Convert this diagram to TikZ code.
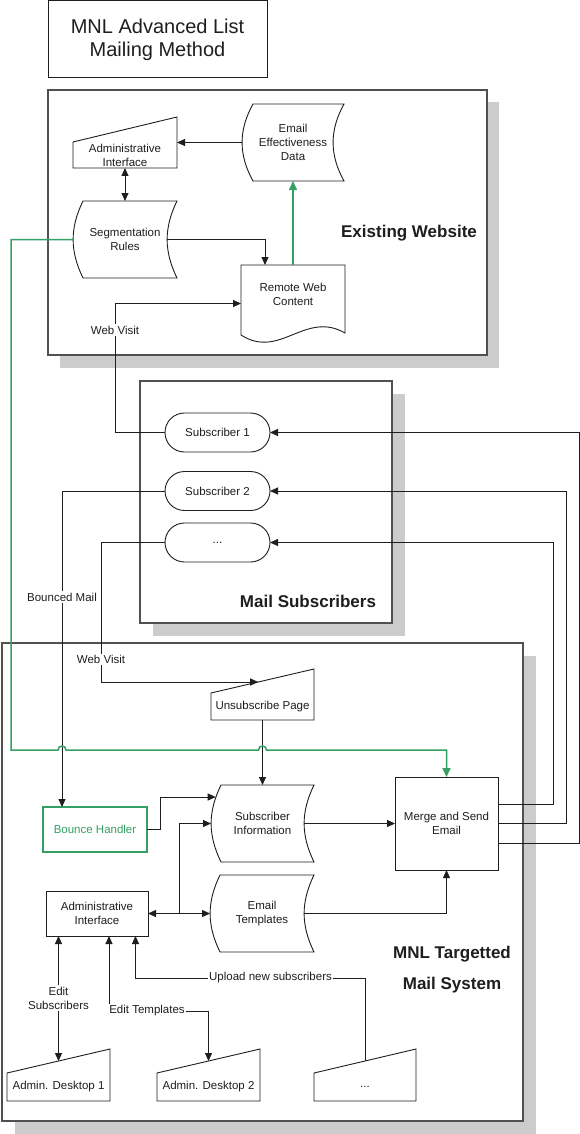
\documentclass[tikz,border=0pt]{standalone}
\usepackage{fontspec}
\setmainfont{Liberation Sans}
\usetikzlibrary{arrows.meta,shapes.misc,calc}
\definecolor{grn}{RGB}{52,160,100}
\definecolor{shadowgray}{RGB}{204,204,204}
\definecolor{framegray}{RGB}{80,80,80}
\definecolor{ink}{RGB}{30,30,30}
\pgfdeclarelayer{bg}
\pgfdeclarelayer{mid}
\pgfsetlayers{bg,mid,main}
\newcommand\mystored[3]{\draw[shp] ([xshift=#2pt]#1.north west) -- (#1.north east) to[bend right=#3] (#1.south east) -- ([xshift=#2pt]#1.south west) to[bend left=#3] ([xshift=#2pt]#1.north west) -- cycle;}
\newcommand\mymanual[2]{\draw[shp] (#1.south west) -- (#1.south east) -- ([yshift=#2pt]#1.north east) -- (#1.north west) -- cycle;}
\begin{document}
\begin{tikzpicture}[x=1pt,y=-1pt,
  font=\fontsize{11.5}{14}\selectfont,
  every node/.style={inner sep=0pt, outer sep=0pt, text=ink, align=center},
  frame/.style={draw=framegray, line width=1.4pt, fill=white},
  shp/.style={draw=ink, line width=0.9pt, fill=white, line join=miter},
  boxnode/.style={draw=ink, line width=0.9pt, fill=white},
  stadium/.style={rounded rectangle, draw=ink, line width=0.9pt, fill=white, minimum width=105pt, minimum height=39pt},
  conn/.style={draw=ink, line width=1pt},
  arr/.style={conn, -{Triangle[length=8pt,width=7pt]}},
  darr/.style={conn, {Triangle[length=8pt,width=7pt]}-{Triangle[length=8pt,width=7pt]}},
  gline/.style={draw=grn, line width=1.5pt},
  garr/.style={gline, -{Triangle[length=9pt,width=8pt]}},
  lbl/.style={fill=white, inner sep=1.5pt},
  big/.style={font=\fontsize{17}{20}\selectfont\bfseries},
]
\useasboundingbox (0,0) rectangle (580,1134);

% ---------- frames and shadows ----------
\begin{pgfonlayer}{bg}
  \fill[white] (0,0) rectangle (580,1134);
  \fill[shadowgray] (60,102) rectangle (499,368);
  \draw[frame] (48,90) rectangle (487,355);
  \fill[shadowgray] (153,394) rectangle (405,636);
  \draw[frame] (140,381) rectangle (392,623);
  \fill[shadowgray] (15,656) rectangle (536,1134);
  \draw[frame] (2,643) rectangle (523,1121);
\end{pgfonlayer}

% ---------- title ----------
\node[draw=ink, line width=1pt, minimum width=219pt, minimum height=77pt,
      font=\fontsize{20}{23}\selectfont] (title) at (157.5,39.5) {MNL Advanced List\\Mailing Method};

% ---------- existing website ----------
\node[minimum width=104pt, minimum height=26pt] (adm1) at (125,155) {Administrative\\Interface};
\node[minimum width=102pt, minimum height=77pt] (eed) at (293,142.5) {Email\\Effectiveness\\Data};
\node[minimum width=104pt, minimum height=77pt] (seg) at (125,239.5) {Segmentation\\Rules};
\node[minimum width=104pt, minimum height=59pt] (remote) at (293,294.5) {Remote Web\\Content};
\node[big] (ewlbl) at (409,233) {Existing Website};

% ---------- subscribers ----------
\node[stadium] (sub1) at (217.5,432.5) {Subscriber 1};
\node[stadium] (sub2) at (217.5,491) {Subscriber 2};
\node[stadium] (sdots) at (217.5,542.5) {...};
\node[big] (mslbl) at (308,601) {Mail Subscribers};

% ---------- mail system ----------
\node[minimum width=103pt, minimum height=27pt] (unsub) at (262.5,706.5) {Unsubscribe Page};
\node[draw=grn, line width=1.4pt, fill=white, text=grn, minimum width=104pt, minimum height=45pt] (bounce) at (95,829.5) {Bounce Handler};
\node[minimum width=103pt, minimum height=77pt] (subinfo) at (262.5,823.5) {Subscriber\\Information};
\node[minimum width=104pt, minimum height=77pt] (templ) at (262,913.5) {Email\\Templates};
\node[boxnode, minimum width=103pt, minimum height=93pt] (merge) at (446.5,823.5) {Merge and Send\\Email};
\node[boxnode, minimum width=102pt, minimum height=45pt] (adm2) at (97,913.5) {Administrative\\Interface};
\node[minimum width=103pt, minimum height=28pt] (desk1) at (58.5,1087) {Admin. Desktop 1};
\node[minimum width=103pt, minimum height=28pt] (desk2) at (208.5,1087) {Admin. Desktop 2};
\node[minimum width=102pt, minimum height=28pt] (desk3) at (365,1087) {...};
\node[big] (mnl1) at (452,954) {MNL Targetted};
\node[big] (mnl2) at (452,985) {Mail System};

% ---------- shapes ----------
\begin{pgfonlayer}{mid}
  \mymanual{adm1}{25}
  \mymanual{unsub}{24}
  \mymanual{desk1}{24}
  \mymanual{desk2}{24}
  \mymanual{desk3}{24}
  \mystored{eed}{11}{29}
  \mystored{seg}{10}{26}
  \mystored{subinfo}{10}{26}
  \mystored{templ}{10}{26}
  \draw[shp] (remote.north west) -- (remote.north east) -- ([yshift=-9pt]remote.south east)
     .. controls ($(remote.south east)+(-40,-14)$) and ($(remote.south west)+(39,36)$) .. ([yshift=-11pt]remote.south west) -- cycle;
\end{pgfonlayer}

% ---------- connectors: existing website ----------
\draw[arr] (eed.west) -- (eed.west -| adm1.east);
\draw[darr] (adm1.south) -- (seg.north);
\draw[arr] ([xshift=-10pt]seg.east) -| ([xshift=-28pt]remote.north);
\draw[garr] (remote.north) -- (eed.south);
\draw[arr] (sub1.west) -- ++(-50,0) |- ([yshift=-9pt]remote.west);
\node[lbl] (wv1) at (115,330) {Web Visit};

% ---------- connectors: subscribers ----------
\draw[arr] ([yshift=-19.5pt]merge.east) -- ++(81,0) |- (sub1.east);
\draw[arr] (merge.east) -- ++(68,0) |- (sub2.east);
\draw[arr] ([yshift=19.5pt]merge.east) -- ++(55,0) |- (sdots.east);
\draw[arr] (sub2.west) -| ([xshift=-33pt]bounce.north);
\node[lbl] (bm) at (62,597) {Bounced Mail};
\draw[arr] (sdots.west) -- ++(-64,0) |- ([xshift=-4.3pt,yshift=11pt]unsub.north);
\node[lbl] (wv2) at (101,659.5) {Web Visit};

% ---------- connectors: mail system ----------
\draw[arr] (unsub.south) -- (subinfo.north);
\draw[arr] (bounce.east) -- ++(13,0) |- ([xshift=4.7pt,yshift=26.5pt]subinfo.west);
\draw[darr] (adm2.east) -- (templ.west);
\draw[arr] ($(adm2.east)!0.5!(templ.west)$) |- (subinfo.west);
\draw[arr] ([xshift=-10pt]subinfo.east) -- (merge.west);
\draw[arr] ([xshift=-10pt]templ.east) -| (merge.south);
\draw[garr] (seg.west) -| (11,750) -- (58,750)
   .. controls (58,744.7) and (66,744.7) .. (66,750) -- (258.5,750)
   .. controls (258.5,744.7) and (266.5,744.7) .. (266.5,750) -| (merge.north);

\draw[darr] (desk1.north |- adm2.south) -- ([yshift=12pt]desk1.north);
\node[lbl] (es) at (58.5,998) {Edit\\Subscribers};
\draw[darr] ([xshift=12pt]adm2.south) -- ++(0,75) -| ([yshift=12pt]desk2.north);
\node[lbl] (et) at (147,1011) {Edit Templates};
\draw[arr] ([yshift=12pt]desk3.north) -- ++(0,-83) -| ([xshift=38.5pt]adm2.south);
\node[lbl] (up) at (270.5,978) {Upload new subscribers};
\end{tikzpicture}
\end{document}
